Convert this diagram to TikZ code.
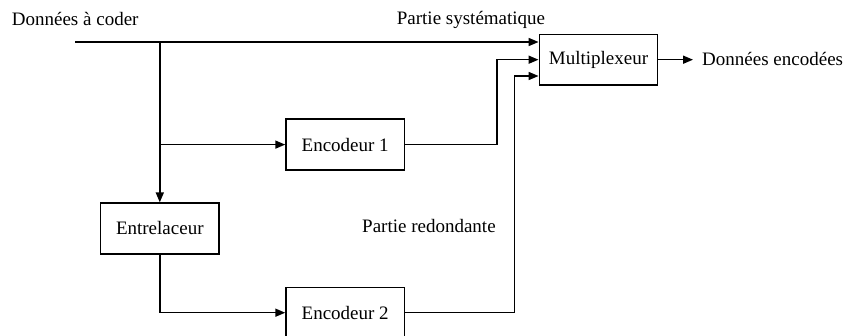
\documentclass[tikz,border=0pt]{standalone}
\usepackage{fontspec}
\setmainfont{Liberation Serif}
\usetikzlibrary{arrows.meta,calc}

\begin{document}
\begin{tikzpicture}[x=1pt,y=-1pt,
  every node/.style={font=\fontsize{19}{23}\selectfont},
  block/.style={draw,line width=1.6pt,minimum width=118.3pt,minimum height=50.7pt,inner sep=0pt},
  wire/.style={line width=1.6pt},
  flow/.style={wire,-{Triangle[length=10pt,width=8pt]}},
  label/.style={inner sep=0pt}]
  \useasboundingbox (0,0) rectangle (848,336);

  % blocks
  \node[block] (mux)  at (598.5,59.7)  {Multiplexeur};
  \node[block] (enc1) at (345.2,144.6) {Encodeur 1};
  \node[block] (entr) at (159.8,228.5) {Entrelaceur};
  \node[block] (enc2) at (345.2,312.7) {Encodeur 2};

  % labels
  \node[label,anchor=base west] (lin)  at (11.7,26) {Données à coder};
  \node[label,anchor=base]      (lsys) at (471,25)  {Partie systématique};
  \node[label,anchor=base west] (lred) at (362,233) {Partie redondante};
  \node[label,anchor=base west] (lout) at (702,65.5) {Données encodées};

  % junctions and free ends
  \coordinate (in)  at (75,42);
  \coordinate (b1)  at (159.8,42);
  \coordinate (r1)  at (497,144.6);
  \coordinate (r2)  at (514.5,312.7);
  \coordinate (out) at (693,59.7);

  % systematic path
  \draw[flow] (in) -- (in -| mux.west);
  \draw[flow] (b1) -- (entr.north);
  \draw[flow] (b1 |- enc1.west) -- (enc1.west);

  % first encoder into the multiplexer
  \draw[flow] (enc1.east) -- (r1) -- (r1 |- mux.west) -- (mux.west);

  % interleaved path
  \draw[flow] (entr.south) -- (entr.south |- enc2.west) -- (enc2.west);
  \draw[flow] (enc2.east) -- (r2) -- ($(r2 |- mux.west)+(0,16.3)$) -- ($(mux.west)+(0,16.3)$);

  % output
  \draw[flow] (mux.east) -- (out);
\end{tikzpicture}
\end{document}
